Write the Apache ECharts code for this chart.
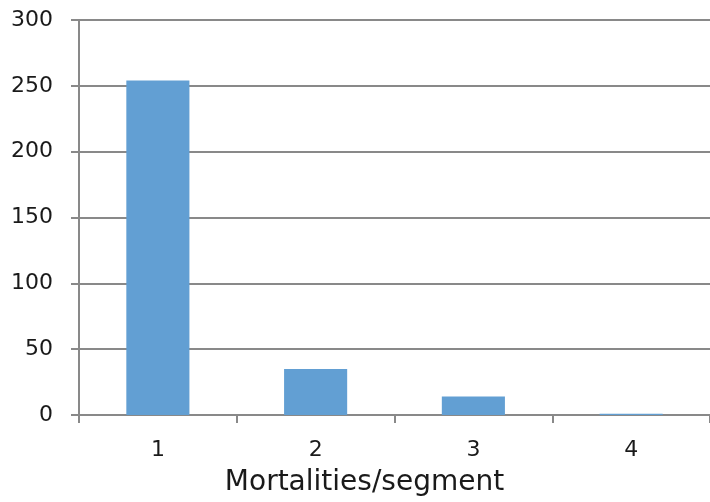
<!DOCTYPE html>
<html>
<head>
<meta charset="utf-8">
<script src="https://cdn.jsdelivr.net/npm/echarts@6/dist/echarts.min.js"></script>
<style>
  html, body { margin: 0; padding: 0; background: #fff; }
  #chart { width: 710px; height: 502px; }
</style>
</head>
<body>
<div id="chart"></div>
<script>
// categories and values
const categories = ['1', '2', '3', '4']
const mortalities = [254, 35, 14, 1]
const yTicks = { min: 0, max: 300, interval: 50 }

const font = '"DejaVu Sans", sans-serif'
const axisGrey = '#898989'

let myChart = echarts.init(document.getElementById('chart'))
myChart.setOption({
  animation: false,
  grid: {
    left: 79,
    right: -5,
    top: 20,
    bottom: 84,
    containLabel: false
  },
  xAxis: {
    type: 'category',
    data: categories,
    name: 'Mortalities/segment',
    nameLocation: 'middle',
    nameGap: 54,
    // title sits a bit left of the axis centre in the original
    nameTextStyle: { fontFamily: font, fontSize: 28, color: '#1a1a1a', padding: [0, 60, 0, 0] },
    axisLine: { show: true, lineStyle: { color: axisGrey, width: 2 } },
    axisTick: { show: true, length: 8, lineStyle: { color: axisGrey, width: 2 } },
    axisLabel: { fontFamily: font, fontSize: 22, color: '#1a1a1a', margin: 24 }
  },
  yAxis: {
    type: 'value',
    min: yTicks.min,
    max: yTicks.max,
    interval: yTicks.interval,
    axisLine: { show: true, lineStyle: { color: axisGrey, width: 2 } },
    axisTick: { show: true, length: 8, lineStyle: { color: axisGrey, width: 2 } },
    axisLabel: { fontFamily: font, fontSize: 22, color: '#1a1a1a', margin: 26 },
    splitLine: { show: true, lineStyle: { color: axisGrey, width: 2 } }
  },
  series: [
    {
      name: 'Mortalities',
      type: 'bar',
      data: mortalities,
      barWidth: '40%',
      itemStyle: { color: '#629fd3' }
    }
  ]
})
</script>
</body>
</html>
